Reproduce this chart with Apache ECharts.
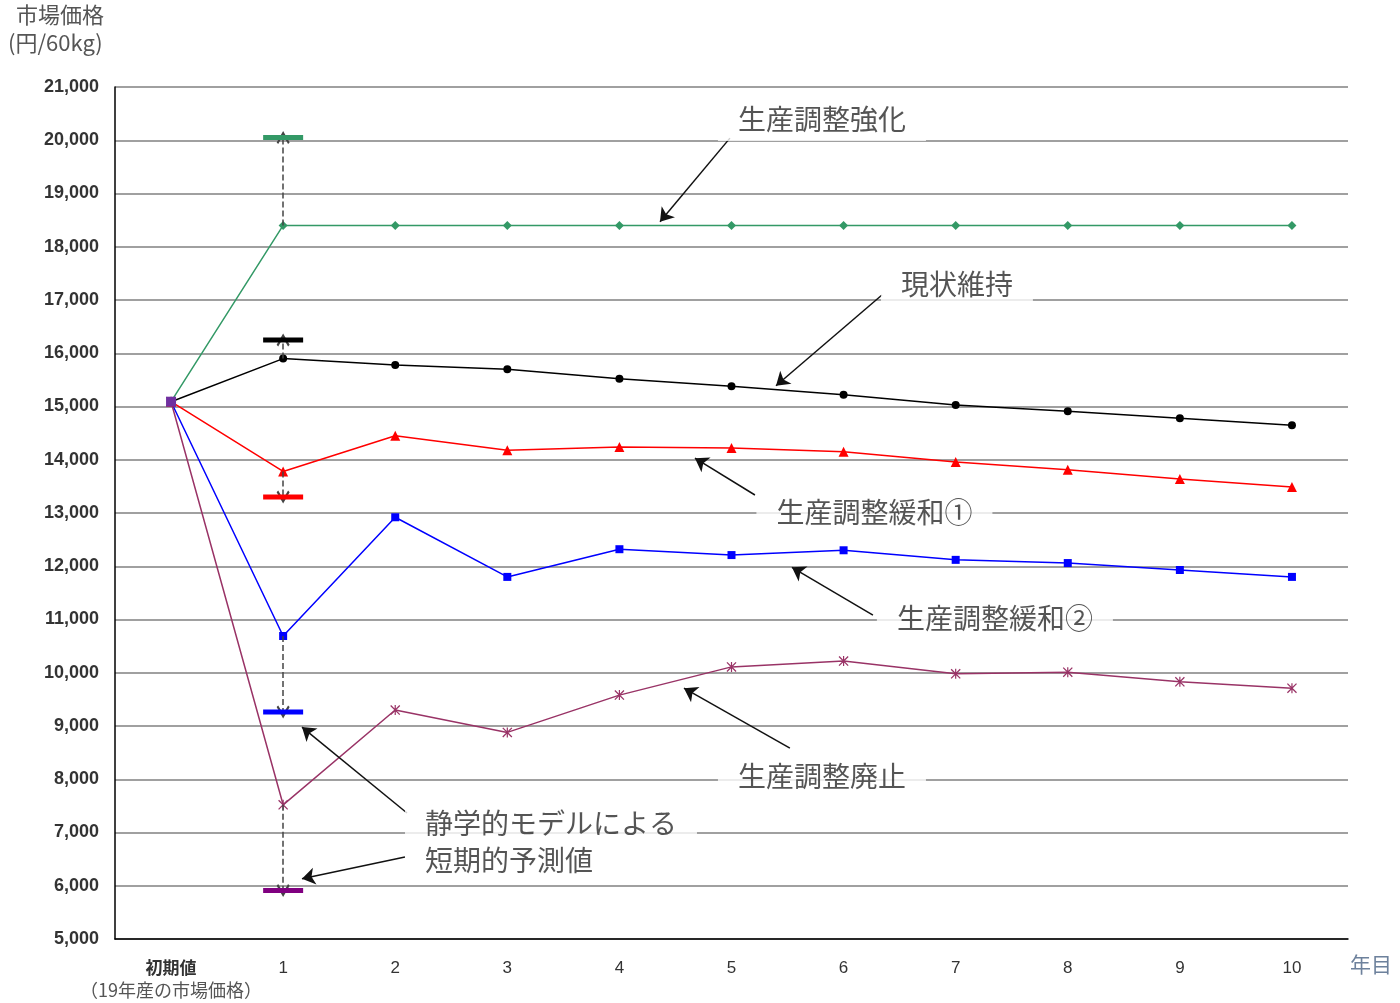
<!DOCTYPE html>
<html><head><meta charset="utf-8">
<script src="https://cdn.jsdelivr.net/npm/echarts@6/dist/echarts.min.js"></script>
<style>html,body{margin:0;padding:0;background:#fff}#c{width:1400px;height:1003px}</style>
</head><body><div id="c"></div>
<script>
// ---- data ----
const categories = ['初期値','1','2','3','4','5','6','7','8','9','10'];
const initialValue = 15090;
const strengthen = [18400,18400,18400,18400,18400,18400,18400,18400,18400,18400];
const statusQuo  = [15900,15780,15700,15520,15380,15220,15030,14910,14780,14650];
const relax1     = [13780,14450,14180,14240,14220,14150,13960,13810,13640,13490];
const relax2     = [10690,12920,11800,12320,12210,12300,12120,12060,11930,11800];
const abolish    = [7520,9300,8880,9580,10110,10220,9980,10010,9830,9710];
const seriesNames = ['生産調整強化','現状維持','生産調整緩和①','生産調整緩和②','生産調整廃止'];
const shortTermValues = [20050,16250,13300,9265,5910];
const yMin = 5000, yMax = 21000, yStep = 1000;

// annotation texts placed in data space (x: category position, y: price)
const annTexts  = ['生産調整強化','現状維持','生産調整緩和①','生産調整緩和②','生産調整廃止','静学的モデルによる','短期的予測値'];
const annX      = [5.807, 7.011, 6.275, 7.350, 5.807, 2.087, 2.087];
const annY      = [20400, 17300, 13020, 11030, 8060, 7180, 6480];
const annAlign  = ['center','center','center','center','center','left','left'];
// arrows: [fromX, fromY, toX, toY]
const annArrows = [
  [4.986,20040,4.362,18470],
  [6.342,17094,5.397,15390],
  [5.209,13338,4.674,14030],
  [6.262,11084,5.539,11980],
  [5.521,8586,4.576,9710],
  [2.105,7366,1.168,8980],
  [2.087,6539,1.168,6130]
];

// ---- styles ----
const lineColors = ['#339966','#000000','#ff0000','#0000ff','#993366'];
const shortColors = ['#339966','#000000','#ff0000','#0000ff','#800080'];
const asterisk = 'path://M4.4,0 h1.2 v10 h-1.2 Z M0,0.9 L0.9,0 L10,9.1 L9.1,10 Z M9.1,0 L10,0.9 L0.9,10 L0,9.1 Z';
const lineSymbols = ['diamond','circle','triangle','rect',asterisk];
const lineSymbolSizes = [9,8,10,8,10];
const chevron = 'path://M5,0 L10,8 L8.8,9.2 L5,3.2 L1.2,9.2 L0,8 Z';

const allValues = [strengthen,statusQuo,relax1,relax2,abolish];

const lineSeries = allValues.map((vals,i)=>({
  name: seriesNames[i], type:'line', xAxisIndex:0, yAxisIndex:0,
  data: [initialValue].concat(vals),
  symbol: lineSymbols[i], symbolSize: lineSymbolSizes[i], showAllSymbol:true,
  lineStyle:{color:lineColors[i], width:1.5},
  itemStyle:{color:lineColors[i]},
  z: 3, silent:true
}));

const chart = echarts.init(document.getElementById('c'));
chart.setOption({
  animation:false,
  backgroundColor:'#fff',
  grid:{left:115,right:52,top:87,bottom:64},
  xAxis:[{
    type:'category', data:categories, boundaryGap:true,
    axisLine:{onZero:false,lineStyle:{color:'#000',width:1.5}},
    axisTick:{inside:true,length:7,lineStyle:{color:'#000',width:1.5}},
    axisLabel:{
      interval:0, margin:18,
      formatter:(v,i)=> i===0 ? '{a|初期値}\n{b|（19年産の市場価格）}' : '{n|'+v+'}',
      rich:{
        a:{fontSize:17,fontWeight:'bold',color:'#333',lineHeight:22,fontFamily:'Noto Sans CJK JP'},
        b:{fontSize:18,color:'#555',lineHeight:22,fontFamily:'Noto Sans CJK JP'},
        n:{fontSize:17,color:'#333',lineHeight:22,fontFamily:'Liberation Sans'}
      }
    }
  },{
    type:'value', min:-0.5, max:10.5, show:false
  }],
  yAxis:{
    type:'value', min:yMin, max:yMax, interval:yStep,
    axisLine:{show:true,onZero:false,lineStyle:{color:'#000',width:1.5}},
    axisTick:{show:false},
    splitLine:{lineStyle:{color:'#808080',width:1.5}},
    axisLabel:{margin:16,fontSize:18,fontWeight:'bold',color:'#333',fontFamily:'Liberation Sans',
      formatter:v=>v.toLocaleString('en-US')}
  },
  graphic:[
    {type:'text',left:16,top:4,style:{text:'市場価格',font:'22px "Noto Sans CJK JP"',fill:'#555'}},
    {type:'text',left:8,top:32,style:{text:'(円/60kg)',font:'22px "Noto Sans CJK JP"',fill:'#555'}},
    {type:'text',left:1350,top:954,style:{text:'年目',font:'21px "Noto Sans CJK JP"',fill:'#6d819c'}}
  ],
  series: lineSeries.concat([
    {
      name:'初期値', type:'scatter', xAxisIndex:0, yAxisIndex:0,
      data:[[0, initialValue]], symbol:'rect', symbolSize:10,
      itemStyle:{color:'#7030a0',opacity:1}, z:4, silent:true
    },
    {
      name:'短期的予測値', type:'scatter', xAxisIndex:1, yAxisIndex:0,
      data: shortTermValues.map(v=>[1,v]),
      symbol:'rect', symbolSize:[40,5],
      itemStyle:{color:p=>shortColors[p.dataIndex],opacity:1},
      z:5, silent:true,
      markLine:{
        silent:true, animation:false,
        symbol:['none',chevron], symbolSize:13,
        label:{show:false},
        lineStyle:{type:'dashed',color:'#444',width:1.5},
        data: allValues.map((vals,i)=>[{coord:[1,vals[0]]},{coord:[1,shortTermValues[i]]}])
      }
    },
    {
      name:'注記', type:'scatter', xAxisIndex:1, yAxisIndex:0,
      data: annTexts.map((t,i)=>({value:[annX[i],annY[i]], label:{align:annAlign[i]}})),
      symbolSize:0, z:6, silent:true,
      label:{
        show:true, position:'inside',
        formatter:p=>annTexts[p.dataIndex],
        verticalAlign:'middle',
        fontSize:28, fontFamily:'Noto Sans CJK JP', color:'#2a2a2a',
        backgroundColor:'#fff', padding:[8,20]
      },
      markLine:{
        silent:true, animation:false,
        symbol:['none','arrow'], symbolSize:13,
        label:{show:false},
        lineStyle:{type:'solid',color:'#111',width:1.5},
        data: annArrows.map(a=>[{coord:[a[0],a[1]]},{coord:[a[2],a[3]]}])
      }
    }
  ])
});
</script></body></html>
